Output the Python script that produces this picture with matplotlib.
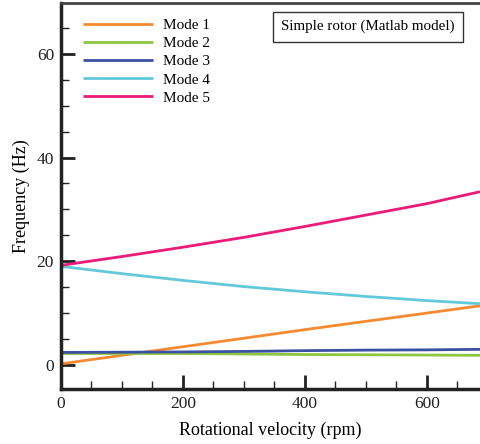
import numpy as np
import matplotlib.pyplot as plt
from matplotlib.ticker import MultipleLocator

plt.rcParams['font.family'] = ['Liberation Serif', 'DejaVu Serif']

# -----------------------------
# Data
# -----------------------------
rpm = [0, 100, 200, 300, 400, 500, 600, 687]
mode1 = [0.2, 1.85, 3.5, 5.15, 6.8, 8.4, 10.0, 11.4]
mode2 = [2.2, 2.2, 2.2, 2.1, 2.0, 1.95, 1.9, 1.85]
mode3 = [2.4, 2.45, 2.5, 2.6, 2.75, 2.85, 2.9, 3.0]
mode4 = [19.0, 17.6, 16.3, 15.1, 14.1, 13.2, 12.4, 11.8]
mode5 = [19.2, 20.9, 22.7, 24.6, 26.7, 28.9, 31.1, 33.4]

labels = ["Mode 1", "Mode 2", "Mode 3", "Mode 4", "Mode 5"]
colors = ["#F58A33", "#8DC63F", "#3B51A3", "#62C9DB", "#EC1A78"]

# -----------------------------
# Plot
# -----------------------------
fig = plt.figure(figsize=(4.8, 4.44), dpi=100)
ax = fig.add_axes([61 / 480, 1 - 389 / 444, 1 - 61 / 480, 386 / 444])

for y, lab, c in zip([mode1, mode2, mode3, mode4, mode5], labels, colors):
    ax.plot(rpm, y, color=c, lw=2.0, label=lab, solid_capstyle="butt")

ax.set_xlim(0, 687)
ax.set_ylim(-4.65, 69.8)

ax.xaxis.set_major_locator(MultipleLocator(200))
ax.xaxis.set_minor_locator(MultipleLocator(50))
ax.yaxis.set_major_locator(MultipleLocator(20))
ax.yaxis.set_minor_locator(MultipleLocator(5))
ax.tick_params(which="both", direction="in", top=False, right=False,
               labelsize=12.5, colors="#222222")
ax.tick_params(which="major", length=10, width=2, pad=5)
ax.tick_params(which="minor", length=6, width=1.0)

for s in ["left", "bottom"]:
    ax.spines[s].set_linewidth(2.5)
    ax.spines[s].set_color("#222222")
ax.spines["top"].set_linewidth(2.0)
ax.spines["top"].set_color("#444444")
ax.spines["right"].set_visible(False)

ax.set_xlabel("Rotational velocity (rpm)", fontsize=13, labelpad=7)
ax.set_ylabel("Frequency (Hz)", fontsize=13, labelpad=5)

ax.legend(loc="upper left", bbox_to_anchor=(0.052, 0.960), frameon=False,
          fontsize=11, handlelength=4.6, handletextpad=0.65,
          labelspacing=0.29, borderpad=0, borderaxespad=0)

ax.text(0.733, 0.939, "Simple rotor (Matlab model)", transform=ax.transAxes,
        ha="center", va="center", fontsize=10.8,
        bbox=dict(boxstyle="square,pad=0.55", fc="white", ec="#333333", lw=1.0))

fig.savefig("out.png", dpi=100)
